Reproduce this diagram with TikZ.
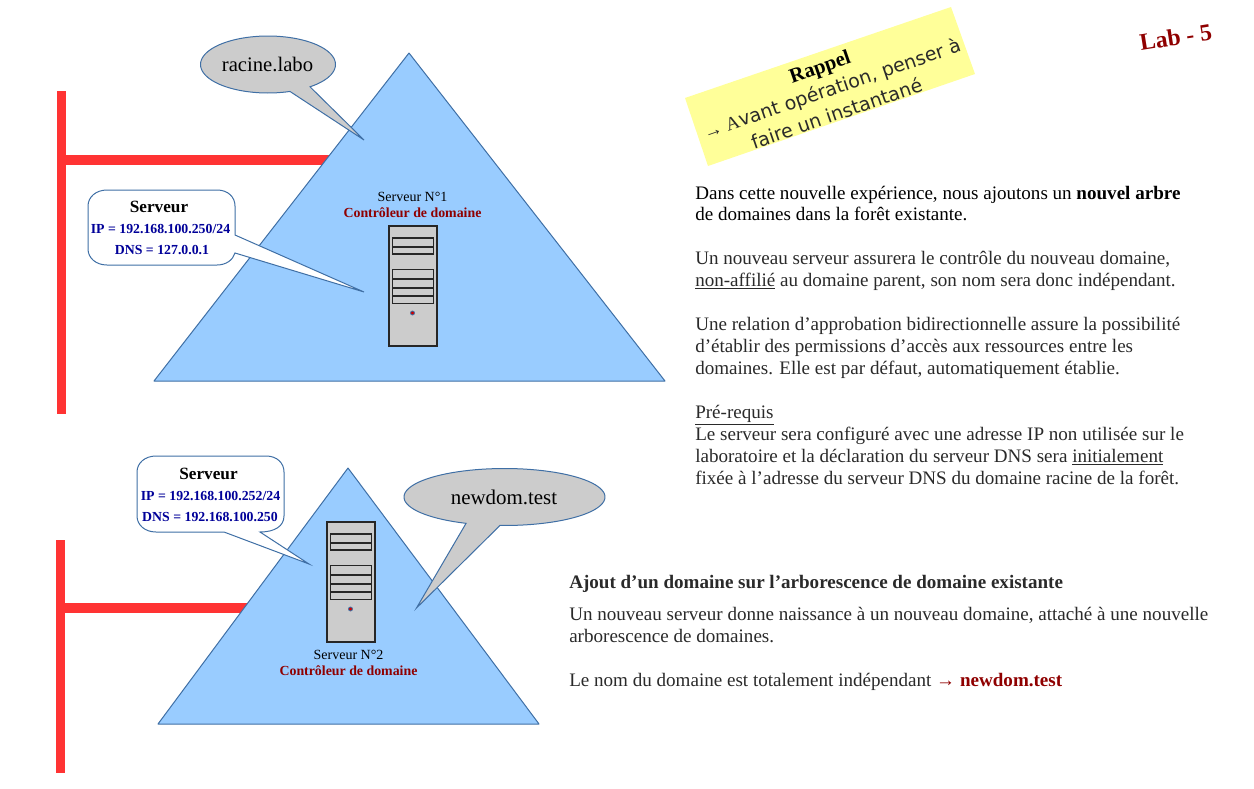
\documentclass[tikz,border=0pt]{standalone}
\usepackage{fontspec}
\setmainfont{Liberation Serif}
\newfontfamily\djv{DejaVu Sans}
\definecolor{redbar}{HTML}{FF3333}
\definecolor{skyfill}{HTML}{99CCFF}
\definecolor{edgeblue}{HTML}{3F6FA5}
\definecolor{graybox}{HTML}{CCCCCC}
\definecolor{darkred}{HTML}{8F0000}
\definecolor{ipblue}{HTML}{000099}
\definecolor{yellowbox}{HTML}{FFFF99}
\definecolor{bodytext}{HTML}{2A2A2A}
\newcommand{\fs}[1]{\fontsize{#1}{#1}\selectfont}
\newcommand{\serverunit}[2]{%
  \begin{scope}[shift={(#1,#2)}]
    \draw[srvline,fill=graybox] (0,0) rectangle (48,120);
    \draw[srvline] (3.5,12) rectangle (44.5,28);
    \draw[srvline] (3.5,21) -- (44.5,21);
    \draw[srvline] (3.5,43.5) rectangle (44.5,77.5);
    \draw[srvline] (3.5,53) -- (44.5,53);
    \draw[srvline] (3.5,62) -- (44.5,62);
    \draw[srvline] (3.5,70) -- (44.5,70);
    \fill[red!80!black,draw=edgeblue,line width=0.6pt] (23.5,87) circle (2);
  \end{scope}}
\tikzset{
  x=0.75pt,y=-0.75pt,
  bar/.style={redbar,line width=6.8pt},
  tri/.style={draw=edgeblue,fill=skyfill,line width=0.75pt,line join=round},
  balloon/.style={draw=edgeblue,fill=graybox,line width=0.75pt,line join=miter},
  srvbubble/.style={draw=edgeblue,fill=white,line width=0.75pt,line join=miter},
  srvline/.style={draw=black!85,line width=0.9pt},
  txt/.style={anchor=base west,inner sep=0pt,text=bodytext,font=\fs{14.3}},
  ctr/.style={anchor=base,inner sep=0pt},
}
\begin{document}
\begin{tikzpicture}
\useasboundingbox (0,0) rectangle (1254,789);
% network bars
\coordinate (v1t) at (61.5,91); \coordinate (v1b) at (61.5,414);
\coordinate (h1a) at (57,160); \coordinate (h1b) at (345,160);
\coordinate (v2t) at (60.5,540); \coordinate (v2b) at (60.5,773);
\coordinate (h2a) at (57,608); \coordinate (h2b) at (260,608);
\draw[bar] (v1t) -- (v1b);
\draw[bar] (h1a) -- (h1b);
\draw[bar] (v2t) -- (v2b);
\draw[bar] (h2a) -- (h2b);
% triangles
\draw[tri] (409,53) -- (665,381) -- (154,381) -- cycle;
\draw[tri] (348,468) -- (539,724) -- (158,724) -- cycle;
% servers
\serverunit{389}{226}
\serverunit{327}{522}
\node[ctr,font=\fs{10.5}] (s1a) at (412.5,201) {Serveur N°1};
\node[ctr,font=\bfseries\fs{10.4},text=darkred] (s1b) at (412.5,217) {Contrôleur de domaine};
\node[ctr,font=\fs{10.5}] (s2a) at (348.5,659) {Serveur N°2};
\node[ctr,font=\bfseries\fs{10.4},text=darkred] (s2b) at (348.5,675) {Contrôleur de domaine};
% ellipse callouts
\draw[balloon] plot[domain=71:411.5,samples=90] ({268+67.5*cos(\x)},{64.5+28.5*sin(\x)}) -- (364,140) -- cycle;
\node[ctr,font=\fs{15.5}] (dom1) at (267.5,71) {racine.labo};
\draw[balloon] plot[domain=112.5:452.6,samples=90] ({504.5+100.5*cos(\x)},{497+28.5*sin(\x)}) -- (416.5,608) -- cycle;
\node[ctr,font=\fs{15.7}] (dom2) at (504,504) {newdom.test};
% server callouts
\draw[srvbubble] (107,190) -- (217,190) .. controls (228,190) and (235,197) .. (235,206) -- (235,235) -- (364,292) -- (235,253)
  .. controls (233,260) and (226,265) .. (217,265) -- (107,265) .. controls (96,265) and (88,258) .. (88,249) -- (88,206) .. controls (88,197) and (96,190) .. (107,190) -- cycle;
\node[ctr,font=\bfseries\fs{12.9}] (b1a) at (159,212) {Serveur};
\node[ctr,font=\bfseries\fs{10.35},text=ipblue] (b1b) at (160.5,233) {IP = 192.168.100.250/24};
\node[ctr,font=\bfseries\fs{10.35},text=ipblue] (b1c) at (162,254) {DNS = 127.0.0.1};
\draw[srvbubble] (156,456) -- (266,456) .. controls (277,456) and (284,463) .. (284,472) -- (284,516) .. controls (284,526) and (275,532) .. (260,532) -- (309,564) -- (224,532)
  -- (156,532) .. controls (145,532) and (137,525) .. (137,516) -- (137,472) .. controls (137,463) and (145,456) .. (156,456) -- cycle;
\node[ctr,font=\bfseries\fs{12.9}] (b2a) at (208.5,479) {Serveur};
\node[ctr,font=\bfseries\fs{10.35},text=ipblue] (b2b) at (210.5,500) {IP = 192.168.100.252/24};
\node[ctr,font=\bfseries\fs{10.35},text=ipblue] (b2c) at (210,521) {DNS = 192.168.100.250};
% reminder
\fill[yellowbox] (685,98) -- (951,7) -- (975,74) -- (708,166) -- cycle;
\node[ctr,rotate=19,font=\bfseries\fs{15.5}] (r1) at (822,73) {Rappel};
\node[ctr,rotate=19,font=\djv\fs{14.2},text=bodytext] (r2) at (834,95) {{\rmfamily → A}vant opération, penser à};
\node[ctr,rotate=19,font=\djv\fs{14.2},text=bodytext] (r3) at (839,120) {faire un instantané};
\node[ctr,rotate=9,font=\bfseries\fs{17.8},text=darkred] (lab) at (1177,45) {Lab - 5};
% right text
\node[txt,text=black] (t1) at (695,199) {Dans cette nouvelle expérience, nous ajoutons un \textbf{nouvel arbre}};
\node[txt,text=black] (t2) at (695,220) {de domaines dans la forêt existante.};
\node[txt] (t3) at (695,264) {Un nouveau serveur assurera le contrôle du nouveau domaine,};
\node[txt] (t4) at (695,286) {\underline{non-affilié} au domaine parent, son nom sera donc indépendant.};
\node[txt] (t5) at (695,330) {Une relation d’approbation bidirectionnelle assure la possibilité};
\node[txt] (t6) at (695,352) {d’établir des permissions d’accès aux ressources entre les};
\node[txt] (t7) at (695,374) {domaines. Elle est par défaut, automatiquement établie.};
\node[txt] (t8) at (695,418) {\underline{Pré-requis}};
\node[txt] (t9) at (695,440) {Le serveur sera configuré avec une adresse IP non utilisée sur le};
\node[txt] (t10) at (695,462) {laboratoire et la déclaration du serveur DNS sera \underline{initialement}};
\node[txt] (t11) at (695,484) {fixée à l’adresse du serveur DNS du domaine racine de la forêt.};
\node[txt,font=\bfseries\fs{14.3}] (t12) at (569,588) {Ajout d’un domaine sur l’arborescence de domaine existante};
\node[txt] (t13) at (569,620) {Un nouveau serveur donne naissance à un nouveau domaine, attaché à une nouvelle};
\node[txt] (t14) at (569,642) {arborescence de domaines.};
\node[txt] (t15) at (569,686) {Le nom du domaine est totalement indépendant {\color{darkred}→ \textbf{newdom.test}}};
\end{tikzpicture}
\end{document}
